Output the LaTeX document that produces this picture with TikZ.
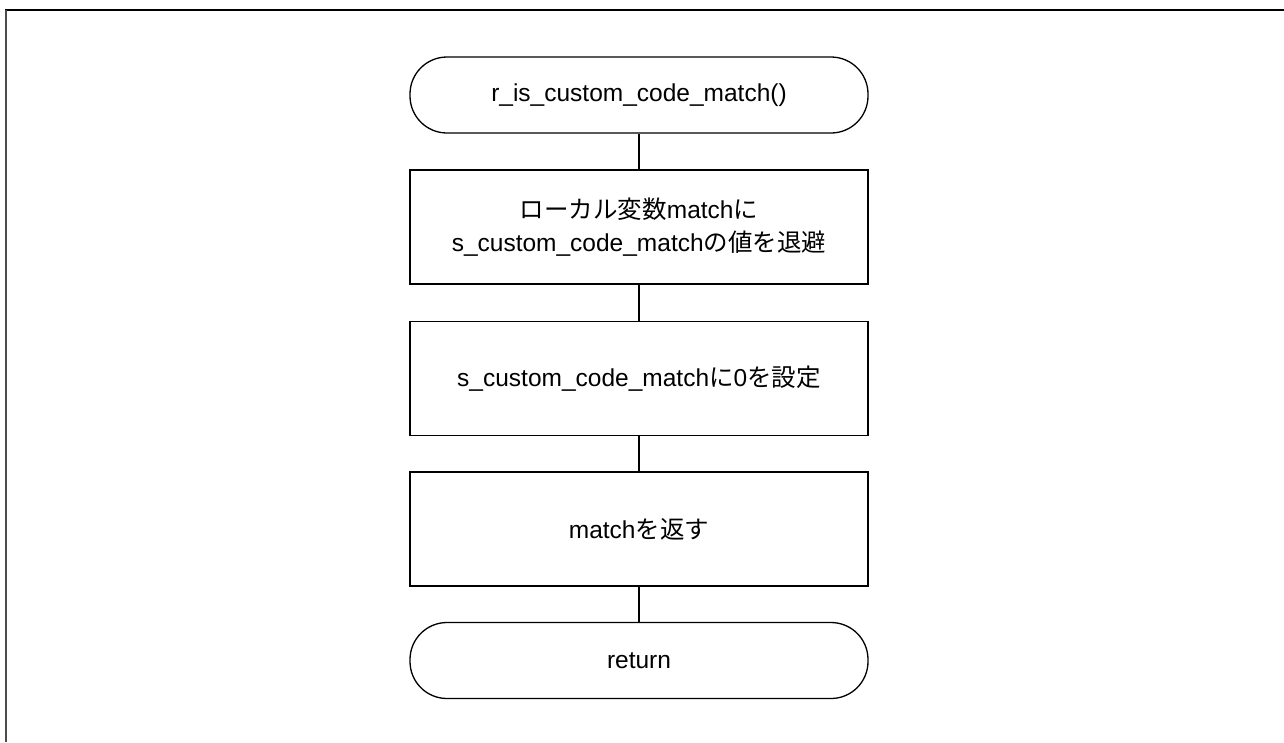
\documentclass[tikz,border=0pt]{standalone}
\usepackage{fontspec}
\setmainfont{Liberation Sans}
\newfontfamily\jp{Noto Sans CJK JP}
\begin{document}
\begin{tikzpicture}[x=1pt,y=-1pt,
  every node/.style={font=\fontsize{24.5}{33}\selectfont},
  term/.style={draw, line width=1.3pt, rounded corners=37pt, minimum width=458pt, minimum height=76pt, inner sep=0pt},
  procbox/.style={draw, line width=1.3pt, minimum width=458pt, minimum height=114pt, inner sep=0pt, align=center},
  link/.style={line width=1.8pt}]
\useasboundingbox (0,0) rectangle (1284,742);
\draw[line width=2pt] (5,9.5) -- (1284,9.5);
\draw[line width=2pt, black!70] (5.5,9.5) -- (5.5,742);
\node[term] (start) at (639,95) {r\_is\_custom\_code\_match()};
\node[procbox] (b1) at (639,227) {{\jp ローカル変数}match{\jp に}\\s\_custom\_code\_match{\jp の値を退避}};
\node[procbox] (b2) at (639,378.5) {s\_custom\_code\_match{\jp に}0{\jp を設定}};
\node[procbox] (b3) at (639,529) {match{\jp を返す}};
\node[term] (end) at (639,660.5) {return};
\draw[link] (start) -- (b1);
\draw[link] (b1) -- (b2);
\draw[link] (b2) -- (b3);
\draw[link] (b3) -- (end);
\end{tikzpicture}
\end{document}
